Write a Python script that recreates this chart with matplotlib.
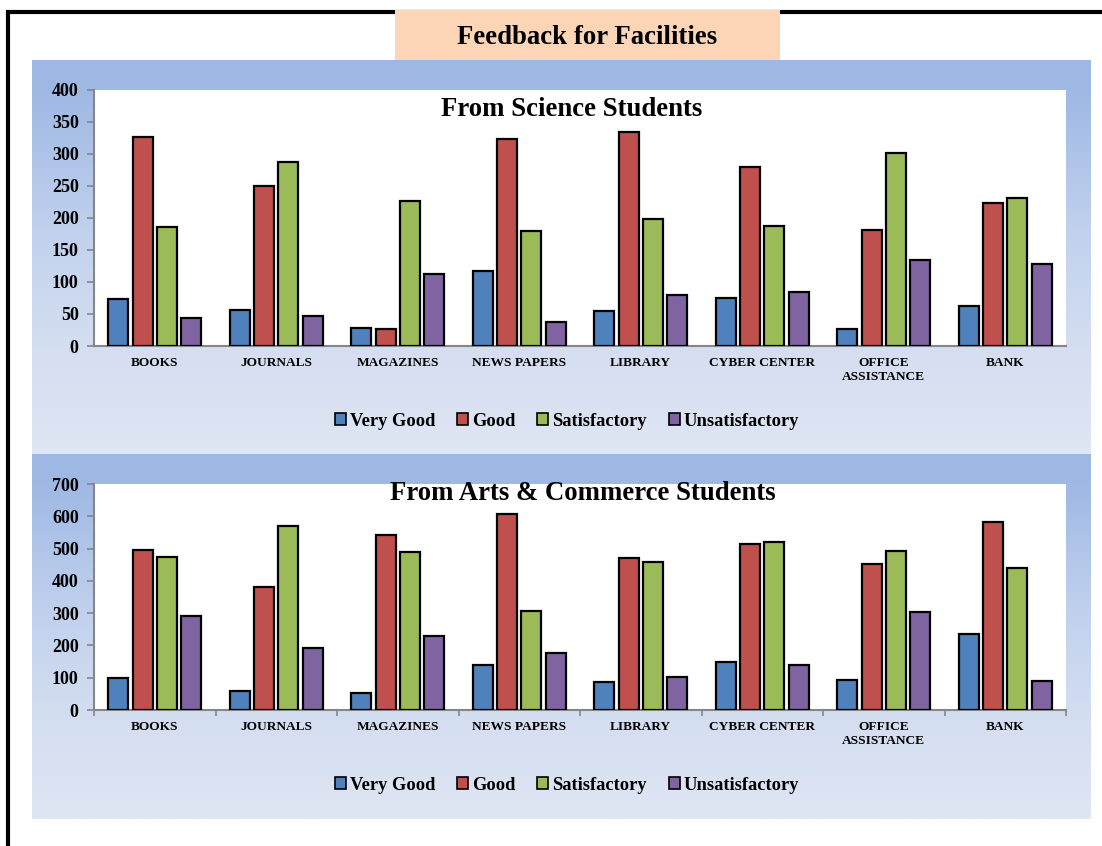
import numpy as np
import matplotlib
matplotlib.use("Agg")
import matplotlib.pyplot as plt
from matplotlib.patches import Rectangle, Patch
from matplotlib.colors import LinearSegmentedColormap

# ---------------- data ----------------
categories = ["BOOKS", "JOURNALS", "MAGAZINES", "NEWS PAPERS", "LIBRARY",
              "CYBER CENTER", "OFFICE\nASSISTANCE", "BANK"]
series_names = ["Very Good", "Good", "Satisfactory", "Unsatisfactory"]

science_very_good = [74, 56, 28, 117, 55, 75, 27, 62]
science_good = [327, 250, 27, 324, 334, 280, 182, 223]
science_satisfactory = [186, 288, 226, 180, 198, 187, 302, 231]
science_unsatisfactory = [44, 47, 113, 37, 80, 85, 134, 128]

arts_very_good = [100, 59, 53, 138, 88, 148, 92, 235]
arts_good = [497, 380, 541, 608, 470, 515, 451, 582]
arts_satisfactory = [473, 571, 489, 307, 459, 520, 491, 440]
arts_unsatisfactory = [291, 191, 229, 178, 102, 138, 303, 90]

science_ticks = [0, 50, 100, 150, 200, 250, 300, 350, 400]
arts_ticks = [0, 100, 200, 300, 400, 500, 600, 700]

colors = ["#4F81BD", "#C0504D", "#9BBB59", "#8064A2"]

W, H = 1102, 846
SERIF = ["Liberation Serif", "DejaVu Serif"]
plt.rcParams["font.family"] = SERIF

fig = plt.figure(figsize=(W / 100, H / 100), dpi=100)
fig.patch.set_facecolor("white")

# ---------------- background (pixel coords) ----------------
bg = fig.add_axes([0, 0, 1, 1])
bg.set_xlim(0, W)
bg.set_ylim(H, 0)
bg.axis("off")

grad_cmap = LinearSegmentedColormap.from_list(
    "panel", [(0.0, "#9DB8E4"), (0.08, "#9FB9E4"), (0.45, "#C2D2EE"),
              (0.75, "#D5DFF1"), (1.0, "#DFE6F4")])
grad = np.linspace(0, 1, 256).reshape(-1, 1)
for (y0, y1) in [(60, 454), (454, 819)]:
    bg.imshow(grad, cmap=grad_cmap, extent=(32, 1091, y1, y0),
              aspect="auto", zorder=1, interpolation="bilinear")
bg.set_xlim(0, W)
bg.set_ylim(H, 0)

# frame lines
bg.plot([7.5, 7.5], [11, H], color="black", lw=3.0, zorder=2,
        solid_capstyle="butt")
bg.plot([6, W], [12, 12], color="black", lw=3.0, zorder=2,
        solid_capstyle="butt")

# title box
bg.add_patch(Rectangle((395, 10), 385, 50, facecolor="#FBD5B5",
                       edgecolor="none", zorder=3))
bg.text(587, 38, "Feedback for Facilities", ha="center", va="center",
        fontsize=19.3, fontweight="bold", zorder=4)


def make_chart(top_px, bottom_px, vals, ticks, title, title_x, title_y,
               legend_y, xticks_marks):
    ax = fig.add_axes([94 / W, 1 - bottom_px / H, (1066 - 94) / W,
                       (bottom_px - top_px) / H])
    ax.set_facecolor("white")
    x = np.arange(len(categories))
    offsets = [-0.3, -0.1, 0.1, 0.3]
    for v, c, off, name in zip(vals, colors, offsets, series_names):
        ax.bar(x + off, v, width=0.165, color=c, edgecolor="black",
               linewidth=1.6, label=name, zorder=3)
    ax.set_xlim(-0.5, len(categories) - 0.5)
    ax.set_ylim(ticks[0], ticks[-1])
    ax.set_yticks(ticks)
    ax.set_yticklabels([str(t) for t in ticks], fontsize=13,
                       fontweight="bold")
    for s in ["top", "right"]:
        ax.spines[s].set_visible(False)
    for s in ["left", "bottom"]:
        ax.spines[s].set_color("#868686")
        ax.spines[s].set_linewidth(1.5)
    ax.tick_params(axis="y", colors="#868686", length=5, width=1.2,
                   labelcolor="black", pad=6)
    ax.set_xticks(x)
    ax.set_xticklabels(categories, fontsize=9.6, fontweight="bold",
                       linespacing=1.2)
    ax.tick_params(axis="x", length=0, pad=8, labelcolor="black")
    if xticks_marks:
        ax.set_xticks(np.arange(len(categories) + 1) - 0.5, minor=True)
        ax.tick_params(axis="x", which="minor", length=4, width=1.2,
                       colors="#868686")
    fig.text(title_x / W, 1 - title_y / H, title, ha="center",
             va="center", fontsize=19.3, fontweight="bold")
    handles = [Patch(facecolor=c, edgecolor="black", linewidth=1.2)
               for c in colors]
    fig.legend(handles, series_names, loc="center",
               bbox_to_anchor=(567 / W, 1 - legend_y / H), ncol=4,
               frameon=False, handlelength=0.6, handleheight=0.6,
               handletextpad=0.2, columnspacing=1.2,
               prop={"family": SERIF, "weight": "bold", "size": 13.3})
    return ax


make_chart(90, 346,
           [science_very_good, science_good, science_satisfactory,
            science_unsatisfactory],
           science_ticks, "From Science Students", 572, 109, 421, False)
make_chart(484, 710,
           [arts_very_good, arts_good, arts_satisfactory,
            arts_unsatisfactory],
           arts_ticks, "From Arts & Commerce Students", 583, 494, 785, True)

fig.savefig("out.png", dpi=100, facecolor="white")
